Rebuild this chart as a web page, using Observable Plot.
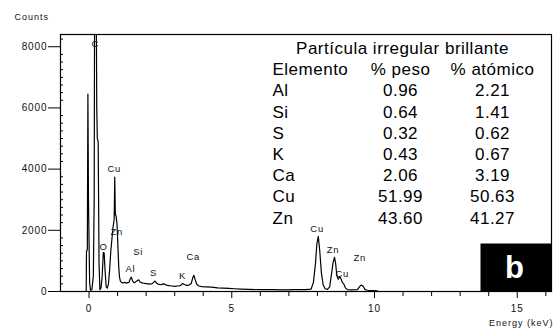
<!DOCTYPE html>
<html><head><meta charset="utf-8">
<script src="https://cdn.jsdelivr.net/npm/d3@7"></script>
<script src="https://cdn.jsdelivr.net/npm/@observablehq/plot@0.6"></script>
<style>
body{margin:0;background:#fff;}
#chart svg{display:block;}
g[aria-label="y-axis tick label"] text, g[aria-label="x-axis tick label"] text {letter-spacing:0.9px;}
</style></head><body><div id="chart"></div>
<script>
// Spectrum (keV, counts)
const energy = [-0.10,-0.09,-0.06,-0.04,-0.02,0.02,0.05,0.10,0.15,0.18,0.20,0.24,0.27,0.29,0.32,0.35,0.38,0.42,0.46,0.50,0.53,0.56,0.60,0.64,0.68,0.72,0.76,0.80,0.84,0.88,0.90,0.92,0.95,0.98,1.01,1.04,1.07,1.10,1.15,1.20,1.25,1.30,1.35,1.40,1.45,1.48,1.52,1.56,1.60,1.65,1.70,1.74,1.78,1.85,1.92,2.00,2.08,2.15,2.22,2.28,2.31,2.36,2.42,2.50,2.58,2.63,2.70,2.80,2.90,3.00,3.10,3.20,3.28,3.34,3.42,3.50,3.58,3.63,3.67,3.72,3.78,3.85,3.95,4.10,4.30,4.50,4.70,4.90,5.10,5.30,5.60,6.00,6.40,6.80,7.20,7.60,7.78,7.86,7.93,7.98,8.03,8.08,8.14,8.20,8.27,8.35,8.43,8.49,8.55,8.60,8.64,8.68,8.73,8.78,8.82,8.87,8.92,8.98,9.05,9.20,9.40,9.47,9.53,9.60,9.67,9.75,9.90,10.1];
const counts = [0,1300,1380,6450,3000,300,40,60,500,3000,12000,12000,6000,5000,4900,900,60,120,500,1280,1250,700,150,110,250,700,1300,1700,2100,2350,3740,2550,2450,2200,1500,800,450,330,290,280,300,270,290,300,430,470,360,300,290,330,360,380,320,280,270,260,250,240,260,320,340,280,240,220,240,250,210,190,180,170,180,190,260,230,200,210,260,440,530,380,230,180,160,150,140,120,110,100,90,80,70,60,60,55,60,60,80,300,900,1550,1800,1350,600,220,90,70,150,550,950,1120,900,520,400,480,430,300,250,120,60,50,60,150,210,170,60,40,30,20];

// Peak labels
const peakNames  = ["C","Cu","Zn","O","Si","Al","S","K","Ca","Cu","Zn","Cu","Zn"];
const peakEnergy = [0.22,0.88,0.97,0.51,1.72,1.45,2.26,3.27,3.65,7.99,8.55,8.87,9.48];
const peakCounts = [8100,4000,1950,1450,1280,750,590,520,1120,2050,1370,560,1110];

// Composition table
const tableTitle = "Partícula irregular brillante";
const headers = ["Elemento","% peso","% atómico"];
const elements = ["Al","Si","S","K","Ca","Cu","Zn"];
const pesoPct = ["0.96","0.64","0.32","0.43","2.06","51.99","43.60"];
const atomicPct = ["2.21","1.41","0.62","0.67","3.19","50.63","41.27"];

// Ticks
const xMajorTicks = [0,5,10,15];
const xMinorTicks = [1,2,3,4,6,7,8,9,11,12,13,14,16];
const yMajorTicks = [0,2000,4000,6000,8000];
const yMinorTicks = d3.range(250, 8400, 250).filter(v => v % 2000 !== 0);

const spectrum = energy.map((e,i) => ({e, c: counts[i]}));
const peaks = peakNames.map((n,i) => ({n, e: peakEnergy[i], c: peakCounts[i]}));

const font = "'Liberation Sans', Arial, Helvetica, sans-serif";
const tbl = {frameAnchor: "top-left", lineAnchor: "top", fontSize: 17, lineHeight: 1.247, fill: "#000"};
const chart = Plot.plot({
  width: 555, height: 334,
  marginLeft: 60, marginRight: 4, marginTop: 34, marginBottom: 43,
  style: {fontFamily: font, background: "white", color: "#111"},
  x: {domain: [-1, 16.2], axis: null},
  y: {domain: [0, 8400], axis: null},
  marks: [
    Plot.frame({fill: "black", stroke: "none", insetLeft: 420, insetTop: 209}),
    Plot.line(spectrum, {x: "e", y: "c", stroke: "#000", strokeWidth: 1.2, clip: true}),
    Plot.frame({stroke: "#000", strokeWidth: 1.2}),
    Plot.axisY(yMajorTicks, {tickSize: 12, tickPadding: 1, fontSize: 10, label: null, stroke: "#000", tickFormat: d => String(d)}),
    Plot.tickY(yMinorTicks, {y: d => d, stroke: "#000", insetRight: 488}),
    Plot.axisX(xMajorTicks, {tickSize: 7, tickPadding: 6, fontSize: 10, label: null, stroke: "#000", tickFormat: d => String(d)}),
    Plot.axisX(xMinorTicks, {tickSize: 5, tickFormat: () => "", label: null, stroke: "#000"}),
    Plot.text(peaks, {x: "e", y: "c", text: "n", fontSize: 9.5, fill: "#111"}),
    Plot.text(["Counts"], {frameAnchor: "top-left", lineAnchor: "top", dx: -46, dy: -20.5, textAnchor: "start", fontSize: 9, fill: "#111"}),
    Plot.text(["Energy (keV)"], {frameAnchor: "bottom-right", dx: 2, dy: 34, textAnchor: "end", fontSize: 9, fill: "#111"}),
    Plot.text([tableTitle], {...tbl, dx: 342, dy: 4, textAnchor: "middle"}),
    Plot.text([[headers[0], ...elements].join("\n")], {...tbl, dx: 212, dy: 25.7, textAnchor: "start"}),
    Plot.text([[headers[1], ...pesoPct].join("\n")], {...tbl, dx: 340, dy: 25.7, textAnchor: "middle"}),
    Plot.text([[headers[2], ...atomicPct].join("\n")], {...tbl, dx: 432, dy: 25.7, textAnchor: "middle"}),
    Plot.text(["b"], {frameAnchor: "bottom-right", dx: -37, dy: -14, textAnchor: "middle", fontSize: 31, fontWeight: "bold", fill: "white"})
  ]
});
// letter spacing per text layer (in mark order)
const spacing = ["0.7px", "1px", "1px", "0.5px", "0.5px", "0.5px", "0.5px", null];
chart.querySelectorAll('g[aria-label="text"]').forEach((g, i) => {
  if (spacing[i]) g.setAttribute("letter-spacing", spacing[i]);
});
document.getElementById("chart").appendChild(chart);
</script></body></html>
